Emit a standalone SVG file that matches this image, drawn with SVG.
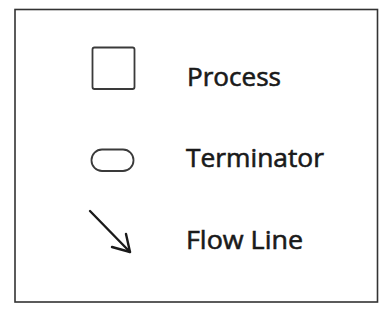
<svg xmlns="http://www.w3.org/2000/svg" width="386" height="320" viewBox="0 0 386 320">
<style>
.lbl{font-family:"Open Sans","Noto Sans",sans-serif;font-size:26px;fill:#1a1a1a;stroke:#1a1a1a;stroke-width:0.6}
.shape{fill:#fff;stroke:#3a3a3a;stroke-width:1.8}
.flow{fill:none;stroke:#1a1a1a;stroke-width:2.4;stroke-linecap:round;stroke-linejoin:round}
</style>
<rect width="386" height="320" fill="#fff"/>
<rect id="frame" x="15" y="9.5" width="362.5" height="292.5" fill="none" stroke="#333" stroke-width="1.6"/>
<g id="process">
<rect class="shape" x="92.5" y="47.5" width="42" height="41.5" rx="2"/>
<text class="lbl" x="187" y="86" textLength="94" lengthAdjust="spacingAndGlyphs">Process</text>
</g>
<g id="terminator">
<rect class="shape" x="91.5" y="149.5" width="42" height="21.5" rx="10.5" stroke="#777"/>
<text class="lbl" x="186" y="167" textLength="138" lengthAdjust="spacingAndGlyphs">Terminator</text>
</g>
<g id="flowline">
<text class="lbl" x="186" y="249" textLength="117" lengthAdjust="spacingAndGlyphs">Flow Line</text>
</g>
<g id="connectors">
<path class="flow" d="M90,211 L130,252"/>
<path class="flow" d="M126,234 L130,252 L112,247"/>
</g>
</svg>
